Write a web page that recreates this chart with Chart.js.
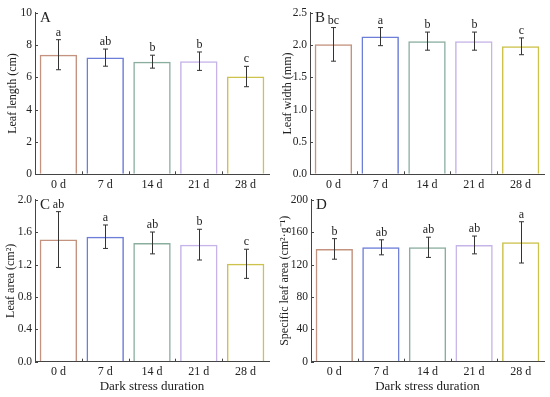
<!DOCTYPE html>
<html>
<head>
<meta charset="utf-8">
<script src="https://cdn.jsdelivr.net/npm/chart.js@4.4.0/dist/chart.umd.min.js"></script>
<style>
body{margin:0;background:#fff;width:550px;height:397px;overflow:hidden;position:relative}
canvas{position:absolute}
</style>
</head>
<body>
<canvas id="cA" width="275" height="190" style="left:0;top:0"></canvas>
<canvas id="cB" width="275" height="190" style="left:275px;top:0"></canvas>
<canvas id="cC" width="275" height="207" style="left:0;top:190px"></canvas>
<canvas id="cD" width="275" height="207" style="left:275px;top:190px"></canvas>
<script>
const categories = ["0 d", "7 d", "14 d", "21 d", "28 d"]

// A: leaf length
const lengthMean = [7.4, 7.22, 6.97, 7.0, 6.05]
const lengthErr = [0.93, 0.53, 0.4, 0.57, 0.63]
const lengthSig = ["a", "ab", "b", "b", "c"]

// B: leaf width
const widthMean = [2.01, 2.13, 2.06, 2.06, 1.98]
const widthErr = [0.26, 0.14, 0.14, 0.14, 0.13]
const widthSig = ["bc", "a", "b", "b", "c"]

// C: leaf area
const areaMean = [1.51, 1.545, 1.468, 1.447, 1.21]
const areaErr = [0.345, 0.145, 0.135, 0.19, 0.18]
const areaSig = ["ab", "a", "ab", "b", "c"]

// D: specific leaf area
const slaMean = [139.4, 141.4, 141.4, 144.3, 147.5]
const slaErr = [12.7, 9.3, 12.5, 11, 25.5]
const slaSig = ["b", "ab", "ab", "ab", "a"]

const barColors = ["#c4937f", "#6d7ed8", "#8aae9e", "#c6b4e8", "#cdc24c"]
const serif = "'Liberation Serif', 'Times New Roman', serif"
const axisColor = "#444"

const extras = {
  id: "extras",
  afterDatasetsDraw(chart, args, opts){
    const ctx = chart.ctx
    const ys = chart.scales.y
    const area = chart.chartArea
    const meta = chart.getDatasetMeta(0)
    ctx.save()
    ctx.strokeStyle = "#333"
    ctx.lineWidth = 1
    ctx.fillStyle = "#222"
    ctx.font = "12px " + serif
    ctx.textAlign = "center"
    ctx.textBaseline = "alphabetic"
    for(let i = 0; i < opts.means.length; i++){
      const cx = Math.round(meta.data[i].x) + 0.5
      const top = ys.getPixelForValue(opts.means[i] + opts.errs[i])
      const bot = ys.getPixelForValue(opts.means[i] - opts.errs[i])
      ctx.beginPath()
      ctx.moveTo(cx, top); ctx.lineTo(cx, bot)
      ctx.moveTo(cx - 2.5, top); ctx.lineTo(cx + 2.5, top)
      ctx.moveTo(cx - 2.5, bot); ctx.lineTo(cx + 2.5, bot)
      ctx.stroke()
      ctx.fillText(opts.sigs[i], cx, top - 4)
    }
    // inward ticks
    ctx.strokeStyle = axisColor
    ctx.beginPath()
    ys.ticks.forEach(t => {
      const py = Math.round(ys.getPixelForValue(t.value)) + 0.5
      ctx.moveTo(area.left, py); ctx.lineTo(area.left + 3, py)
    })
    const n = categories.length
    const step = (area.right - area.left) / n
    for(let i = 1; i < n; i++){
      const px = Math.round(area.left + i * step) + 0.5
      ctx.moveTo(px, area.bottom); ctx.lineTo(px, area.bottom - 3)
    }
    ctx.stroke()
    // panel letter
    ctx.font = "15px " + serif
    ctx.textAlign = "left"
    ctx.textBaseline = "middle"
    ctx.fillText(opts.letter, area.left + 5, area.top + 5)
    ctx.restore()
  }
}

function makePanel(id, means, errs, sigs, letter, yMax, yStep, decimals, yTitle, p){
  return new Chart(document.getElementById(id), {
    type: "bar",
    data: {
      labels: categories,
      datasets: [{
        data: means,
        backgroundColor: "rgba(255,255,255,0)",
        borderColor: barColors,
        borderWidth: 1.5,
        categoryPercentage: 0.8,
        barPercentage: 1
      }]
    },
    options: {
      responsive: false,
      animation: false,
      layout: { padding: { top: p.top, right: p.right, left: 0, bottom: 0 } },
      plugins: {
        legend: { display: false },
        tooltip: { enabled: false },
        extras: { means: means, errs: errs, sigs: sigs, letter: letter }
      },
      scales: {
        x: {
          grid: { display: true, drawOnChartArea: false, drawTicks: false },
          border: { color: axisColor, width: 1 },
          ticks: { color: "#222", font: { family: serif, size: 12 }, padding: 3, maxRotation: 0 },
          title: {
            display: p.xTitle,
            text: "Dark stress duration",
            color: "#222",
            font: { family: serif, size: 13 },
            padding: { top: 0, bottom: 2.5 }
          },
          afterFit: s => { s.height = p.xHeight }
        },
        y: {
          min: 0,
          max: yMax,
          grid: { display: true, drawOnChartArea: false, drawTicks: false },
          border: { color: axisColor, width: 1 },
          ticks: {
            stepSize: yStep,
            color: "#222",
            font: { family: serif, size: 11.5 },
            padding: 3,
            callback: v => v.toFixed(decimals)
          },
          title: {
            display: true,
            text: yTitle,
            color: "#222",
            font: { family: serif, size: 12 },
            padding: { top: p.titlePad, bottom: 0 }
          },
          afterFit: s => { s.width = p.yWidth }
        }
      }
    },
    plugins: [extras]
  })
}

makePanel("cA", lengthMean, lengthErr, lengthSig, "A", 10, 2, 0, "Leaf length (cm)",
  { top: 12.7, right: 6, xHeight: 15.7, yWidth: 35, titlePad: 6, xTitle: false })
makePanel("cB", widthMean, widthErr, widthSig, "B", 2.5, 0.5, 1, "Leaf width (mm)",
  { top: 12.7, right: 6, xHeight: 15.7, yWidth: 35, titlePad: 5.5, xTitle: false })
makePanel("cC", areaMean, areaErr, areaSig, "C", 2.0, 0.4, 1, "Leaf area (cm\u00b2)",
  { top: 9, right: 6, xHeight: 35.3, yWidth: 35, titlePad: 4, xTitle: true })
makePanel("cD", slaMean, slaErr, slaSig, "D", 200, 40, 0, "Specific leaf area (cm\u00b2\u00b7g\u207b\u00b9)",
  { top: 9, right: 6, xHeight: 35.3, yWidth: 36, titlePad: 3, xTitle: true })
</script>
</body>
</html>
